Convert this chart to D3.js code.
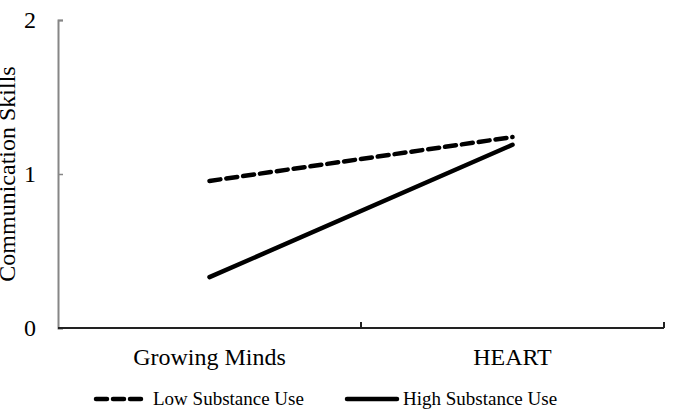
<!DOCTYPE html>
<html>
<head>
<meta charset="utf-8">
<script src="https://cdn.jsdelivr.net/npm/d3@7"></script>
<style>
  body { margin: 0; background: #fff; }
  svg { display: block; font-family: "Liberation Serif", "Times New Roman", serif; }
</style>
</head>
<body>
<div id="chart"></div>
<script>
// data
const categories = ["Growing Minds", "HEART"];
const lowUse = [0.955, 1.24];
const highUse = [0.33, 1.19];
const yTicks = [0, 1, 2];
const seriesNames = ["Low Substance Use", "High Substance Use"];

const width = 674, height = 412;
const margin = { top: 20, right: 10, bottom: 84, left: 58 };

const svg = d3.select("#chart").append("svg")
    .attr("width", width)
    .attr("height", height);

const xScale = d3.scaleBand()
    .domain(categories)
    .range([margin.left, 664]);

const yScale = d3.scaleLinear()
    .domain([0, 2])
    .range([328, 20]);

// y axis (gray, ticks pointing inward)
const yAxis = svg.append("g")
    .attr("transform", `translate(${margin.left},0)`)
    .call(d3.axisRight(yScale).tickValues(yTicks).tickSize(5).tickFormat(""));
yAxis.select(".domain").attr("stroke", "#868686").attr("stroke-width", 2);
yAxis.selectAll(".tick line").attr("stroke", "#868686").attr("stroke-width", 1.5);

svg.selectAll(".ylab")
    .data(yTicks)
    .enter().append("text")
    .attr("class", "ylab")
    .attr("x", 36)
    .attr("y", d => yScale(d))
    .attr("dy", "0.35em")
    .attr("text-anchor", "end")
    .style("font-size", "24px")
    .text(d => d);

// x axis (ticks at band edges, pointing up)
const xEdges = categories.map(c => xScale(c) + xScale.bandwidth());
svg.append("line")
    .attr("x1", margin.left).attr("x2", 664)
    .attr("y1", yScale(0)).attr("y2", yScale(0))
    .attr("stroke", "#222").attr("stroke-width", 2);
svg.selectAll(".xtick")
    .data(xEdges)
    .enter().append("line")
    .attr("class", "xtick")
    .attr("x1", d => d).attr("x2", d => d)
    .attr("y1", yScale(0)).attr("y2", yScale(0) - 6)
    .attr("stroke", "#222").attr("stroke-width", 2);

svg.selectAll(".xlab")
    .data(categories)
    .enter().append("text")
    .attr("class", "xlab")
    .attr("x", d => xScale(d) + xScale.bandwidth() / 2)
    .attr("y", 365)
    .attr("text-anchor", "middle")
    .style("font-size", "24px")
    .text(d => d);

// y axis title (cut at the left edge as in the original)
svg.append("text")
    .attr("transform", `translate(15,${yScale(1)}) rotate(-90)`)
    .attr("text-anchor", "middle")
    .style("font-size", "24px")
    .text("Communication Skills");

// lines
const line = d3.line()
    .x((d, i) => xScale(categories[i]) + xScale.bandwidth() / 2)
    .y(d => yScale(d));

svg.append("path")
    .datum(lowUse)
    .attr("d", line)
    .attr("fill", "none")
    .attr("stroke", "#000")
    .attr("stroke-width", 4.5)
    .attr("stroke-dasharray", "11,6")
    .attr("stroke-linecap", "round");

svg.append("path")
    .datum(highUse)
    .attr("d", line)
    .attr("fill", "none")
    .attr("stroke", "#000")
    .attr("stroke-width", 4.5)
    .attr("stroke-linecap", "round");

// legend
const legendX = [94, 345];
const legend = svg.selectAll(".legend")
    .data(seriesNames)
    .enter().append("g")
    .attr("class", "legend")
    .attr("transform", (d, i) => `translate(${legendX[i]},399)`);

legend.append("line")
    .attr("x1", 2).attr("x2", (d, i) => i === 0 ? 47 : 52)
    .attr("y1", 0).attr("y2", 0)
    .attr("stroke", "#000")
    .attr("stroke-width", 4.5)
    .attr("stroke-linecap", "round")
    .attr("stroke-dasharray", (d, i) => i === 0 ? "11,6" : null);

legend.append("text")
    .attr("x", (d, i) => i === 0 ? 59 : 58)
    .attr("y", 6)
    .style("font-size", "19px")
    .text(d => d);
</script>
</body>
</html>
